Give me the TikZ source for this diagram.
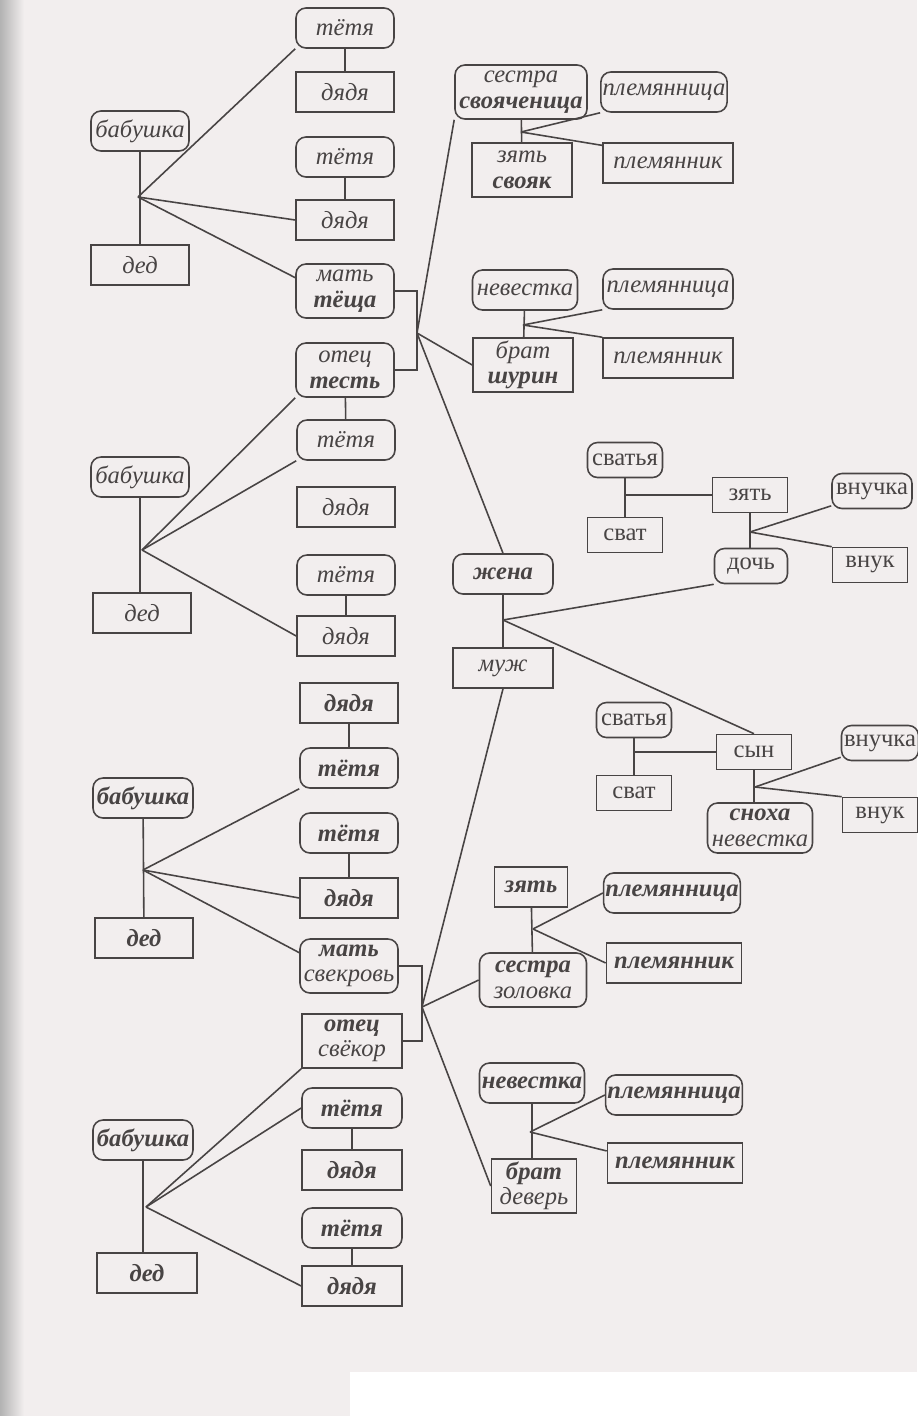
\documentclass[tikz,border=0pt]{standalone}
\usepackage{fontspec}
\setmainfont{Liberation Serif}
\usepackage{tikz}
\definecolor{paper}{RGB}{242,238,238}
\definecolor{ink}{RGB}{72,68,68}
\newcommand{\linecolor}{ink}
\newcommand{\lw}{0.9pt}
\newcommand{\fs}{\fontsize{14}{14.5}\selectfont}
\tikzset{
  person/.style={draw=\linecolor, line width=\lw, text=ink, align=center,
    inner sep=1pt, minimum height=8mm, font=\fs\itshape},
  her/.style={person, rounded corners=2mm},
  him/.style={person},
  up/.style={font=\fs\upshape},
  bf/.style={font=\fs\bfseries\itshape},
  wd/.style={minimum width=#1mm},
  two/.style={minimum height=10.8mm},
  low/.style={minimum height=7mm},
  tie/.style={draw=\linecolor, line width=\lw},
}

\begin{document}
\begin{tikzpicture}[x=0.2mm,y=-0.2mm]
\useasboundingbox (0,0) rectangle (917,1416);
\fill[paper] (0,0) rectangle (917,1416);
\shade[left color=black!30, right color=paper] (0,0) rectangle (24,1416);
\fill[white] (350,1372) rectangle (917,1416);
%wife's mother
\node[her, wd=19.6] (tet1) at (345,28) {тётя};
\node[him, wd=19.6] (dyd1) at (345,92) {дядя};
\node[her, wd=19.6] (tet2) at (345,157) {тётя};
\node[him, wd=19.6] (dyd2) at (345,220) {дядя};
\node[her, wd=19.6, two] (tesha) at (345,291) {мать\\\textbf{тёща}};
\node[her, wd=19.6] (babA) at (140,131) {бабушка};
\node[him, wd=19.6] (dedA) at (140,265) {дед};
\coordinate (jA) at (138,197);
\draw[tie] (babA) -- (dedA);
\draw[tie] (tet1) -- (dyd1);
\draw[tie] (tet2) -- (dyd2);
\draw[tie] (jA) -- (tet1.south west);
\draw[tie] (jA) -- (dyd2.west);
\draw[tie] (jA) -- (tesha.165);
%wife's father
\node[her, wd=19.6, two] (test) at (345,370) {отец\\\textbf{тесть}};
\node[her, wd=19.6] (tet3) at (346,440) {тётя};
\node[him, wd=19.6] (dyd3) at (346,507) {дядя};
\node[her, wd=19.6] (tet4) at (346,575) {тётя};
\node[him, wd=19.6] (dyd4) at (346,636) {дядя};
\node[her, wd=19.6] (babB) at (140,477) {бабушка};
\node[him, wd=19.6] (dedB) at (142,613) {дед};
\coordinate (jB) at (142,550);
\draw[tie] (test) -- (tet3);
\draw[tie] (tet4) -- (dyd4);
\draw[tie] (babB.south) -- (babB.south |- dedB.north);
\draw[tie] (jB) -- (test.south west);
\draw[tie] (jB) -- (tet3.south west);
\draw[tie] (jB) -- (dyd4.west);
\coordinate (jC) at (417,333);
\draw[tie] (tesha.east) -| (jC) |- (test.east);
%wife's siblings
\node[her, wd=26.4, two] (svoy) at (521,92) {сестра\\\textbf{свояченица}};
\node[him, wd=20, two] (svk) at (522,170) {зять\\\textbf{свояк}};
\node[her, wd=24.4] (plA1) at (664,92) {племянница};
\node[him, wd=26] (plA2) at (668,163) {племянник};
\coordinate (jD) at (521,132);
\draw[tie] (svoy) -- (svk);
\draw[tie] (jD) -- (plA1.south west);
\draw[tie] (jD) -- (plA2.165);
\node[her, wd=21] (nevA) at (525,290) {невестка};
\node[him, wd=20, two] (shur) at (523,365) {брат\\\textbf{шурин}};
\node[her, wd=26] (plB1) at (668,289) {племянница};
\node[him, wd=26] (plB2) at (668,358) {племянник};
\coordinate (jE) at (523,325);
\draw[tie] (nevA) -- (shur);
\draw[tie] (jE) -- (plB1.south west);
\draw[tie] (jE) -- (plB2.north west);
\draw[tie] (jC) -- (svoy.south west);
\draw[tie] (jC) -- (shur.west);
%couple
\node[her, bf, wd=20] (zhena) at (503,574) {жена};
\node[him, wd=20] (muzh) at (503,668) {муж};
\coordinate (jF) at (503,620);
\draw[tie] (jC) -- (zhena.north);
\draw[tie] (zhena) -- (muzh);
%daughter
\node[her, up, wd=15, low] (svatA1) at (625,460) {сватья};
\node[him, up, wd=15, low] (svatA2) at (625,535) {сват};
\node[him, up, wd=15, low] (zyat) at (750,495) {зять};
\node[her, up, wd=14.6, low] (doch) at (751,566) {дочь};
\node[her, up, wd=16, low] (vnA1) at (872,491) {внучка};
\node[him, up, wd=15, low] (vnA2) at (870,565) {внук};
\coordinate (jH) at (750,532);
\draw[tie] (svatA1) -- (svatA2);
\draw[tie] (svatA1 |- zyat) -- (zyat.west);
\draw[tie] (zyat.south) -- (zyat.south |- doch.north);
\draw[tie] (jH) -- (vnA1.200);
\draw[tie] (jH) -- (vnA2.north west);
\draw[tie] (jF) -- (doch.south west);
%son
\node[her, up, wd=15, low] (svatB1) at (634,720) {сватья};
\node[him, up, wd=15, low] (svatB2) at (634,793) {сват};
\node[him, up, wd=15, low] (syn) at (754,752) {сын};
\node[her, wd=21, minimum height=10mm] (snoh) at (760,828) {\textbf{сноха}\\невестка};
\node[her, up, wd=15.4, low] (vnB1) at (880,743) {внучка};
\node[him, up, wd=15, low] (vnB2) at (880,815) {внук};
\coordinate (jI) at (755,787);
\draw[tie] (svatB1) -- (svatB2);
\draw[tie] (svatB1 |- syn) -- (syn.west);
\draw[tie] (syn.south) -- (syn.south |- snoh.north);
\draw[tie] (jI) -- (vnB1.200);
\draw[tie] (jI) -- (vnB2.north west);
\draw[tie] (jF) -- (syn.north);
%husband's mother
\node[him, bf, wd=19.6] (dyd5) at (349,703) {дядя};
\node[her, bf, wd=19.6] (tet5) at (349,768) {тётя};
\node[her, bf, wd=19.6] (tet6) at (349,833) {тётя};
\node[him, bf, wd=19.6] (dyd6) at (349,898) {дядя};
\node[her, wd=19.6, two] (svek) at (349,966) {\textbf{мать}\\свекровь};
\node[her, bf, wd=20] (babC) at (143,798) {бабушка};
\node[him, bf, wd=19.6] (dedC) at (144,938) {дед};
\coordinate (jJ) at (143,870);
\draw[tie] (dyd5) -- (tet5);
\draw[tie] (tet6) -- (dyd6);
\draw[tie] (babC) -- (dedC);
\draw[tie] (jJ) -- (tet5.south west);
\draw[tie] (jJ) -- (dyd6.west);
\draw[tie] (jJ) -- (svek.165);
%husband's father
\node[him, wd=20, two] (svyo) at (352,1041) {\textbf{отец}\\свёкор};
\node[her, bf, wd=20] (tet7) at (352,1108) {тётя};
\node[him, bf, wd=20] (dyd7) at (352,1170) {дядя};
\node[her, bf, wd=20] (tet8) at (352,1228) {тётя};
\node[him, bf, wd=20] (dyd8) at (352,1286) {дядя};
\node[her, bf, wd=20] (babD) at (143,1140) {бабушка};
\node[him, bf, wd=20] (dedD) at (147,1273) {дед};
\coordinate (jK) at (146,1207);
\draw[tie] (tet7) -- (dyd7);
\draw[tie] (tet8) -- (dyd8);
\draw[tie] (babD.south) -- (babD.south |- dedD.north);
\draw[tie] (jK) -- (svyo.south west);
\draw[tie] (jK) -- (tet7.west);
\draw[tie] (jK) -- (dyd8.west);
\coordinate (jG) at (422,1007);
\draw[tie] (svek.east) -| (jG) |- (svyo.east);
\draw[tie] (jG) -- (muzh.south);
%husband's siblings
\node[him, bf, wd=14.6] (zyatL) at (531,887) {зять};
\node[her, wd=21.4, two] (zolo) at (533,980) {\textbf{сестра}\\золовка};
\node[her, bf, wd=27] (plC1) at (672,893) {племянница};
\node[him, bf, wd=27] (plC2) at (674,963) {племянник};
\coordinate (jL) at (533,929);
\draw[tie] (zyatL) -- (zolo);
\draw[tie] (jL) -- (plC1.west);
\draw[tie] (jL) -- (plC2.west);
\node[her, bf, wd=21] (nevL) at (532,1083) {невестка};
\node[him, wd=17, two] (dev) at (534,1186) {\textbf{брат}\\деверь};
\node[her, bf, wd=27] (plD1) at (674,1095) {племянница};
\node[him, bf, wd=27] (plD2) at (675,1163) {племянник};
\coordinate (jM) at (530,1132);
\draw[tie] (nevL.south) -- (nevL.south |- dev.north);
\draw[tie] (jM) -- (plD1.west);
\draw[tie] (jM) -- (plD2.170);
\draw[tie] (jG) -- (zolo.west);
\draw[tie] (jG) -- (dev.west);
\end{tikzpicture}
\end{document}
